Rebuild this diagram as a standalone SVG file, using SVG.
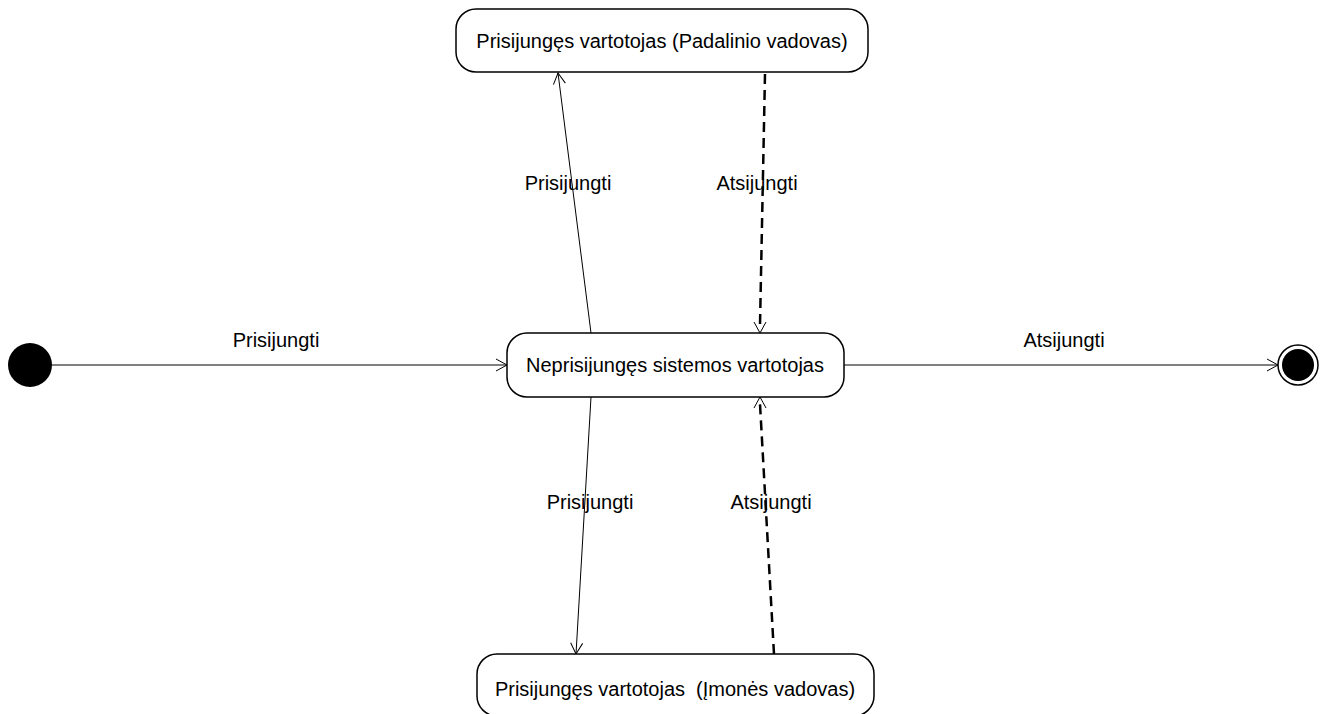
<svg xmlns="http://www.w3.org/2000/svg" width="1327" height="714" viewBox="0 0 1327 714">
<style>
.node{fill:#fff;stroke:#000;stroke-width:1.5}
.t{font-family:"Liberation Sans",Arial,sans-serif;font-size:20px;fill:#000;text-anchor:middle;white-space:pre}
.c{fill:none;stroke:#000;stroke-width:1}
.d{fill:none;stroke:#000;stroke-width:2.5;stroke-dasharray:10 6}
.ah{fill:none;stroke:#000;stroke-width:1}
</style>
<defs>
<marker id="arr" markerWidth="14" markerHeight="14" refX="12" refY="7" orient="auto" markerUnits="userSpaceOnUse">
<path d="M1,1 L12,7 L1,13" class="ah"/>
</marker>
</defs>
<rect width="1327" height="714" fill="#fff"/>
<g id="connectors">
<line class="c" x1="52" y1="365" x2="507" y2="365" marker-end="url(#arr)"/>
<line class="c" x1="844" y1="365" x2="1278" y2="365" marker-end="url(#arr)"/>
<line class="c" x1="591" y1="333" x2="558" y2="73" marker-end="url(#arr)"/>
<line class="d" x1="765" y1="74" x2="760" y2="325"/>
<path class="ah" d="M754,322 L760,333 L766,322"/>
<line class="c" x1="591" y1="397" x2="576" y2="654" marker-end="url(#arr)"/>
<line class="d" x1="774" y1="654" x2="760" y2="404"/>
<path class="ah" d="M754,408 L760,397 L766,408"/>
<text class="t" x="276" y="347">Prisijungti</text>
<text class="t" x="1064" y="347">Atsijungti</text>
<text class="t" x="568" y="190">Prisijungti</text>
<text class="t" x="757" y="190">Atsijungti</text>
<text class="t" x="590" y="509">Prisijungti</text>
<text class="t" x="771" y="509">Atsijungti</text>
</g>
<g id="initial">
<circle cx="30" cy="365" r="22" fill="#000"/>
</g>
<g id="final">
<circle cx="1298" cy="365" r="20" fill="#fff" stroke="#000" stroke-width="1.5"/>
<circle cx="1298" cy="365" r="16" fill="#000"/>
</g>
<g id="padalinio">
<rect class="node" x="456" y="9" width="412" height="63" rx="20" ry="20"/>
<text class="t" x="662" y="48">Prisijungęs vartotojas (Padalinio vadovas)</text>
</g>
<g id="neprisijunges">
<rect class="node" x="507" y="333" width="337" height="64" rx="20" ry="20"/>
<text class="t" x="675" y="372">Neprisijungęs sistemos vartotojas</text>
</g>
<g id="imones">
<rect class="node" x="477" y="654" width="397" height="62" rx="20" ry="20"/>
<text class="t" x="675" y="696">Prisijungęs vartotojas  (Įmonės vadovas)</text>
</g>
</svg>
